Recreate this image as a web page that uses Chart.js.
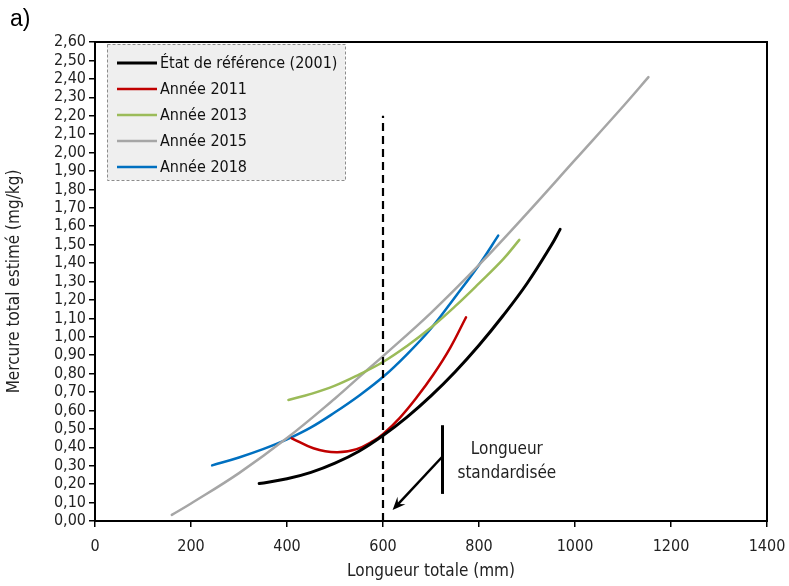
<!DOCTYPE html>
<html><head><meta charset="utf-8">
<script src="https://cdn.jsdelivr.net/npm/chart.js@4/dist/chart.umd.min.js"></script>
<style>html,body{margin:0;padding:0;background:#fff}#wrap{width:789px;height:586px;position:relative}</style>
</head><body><div id="wrap"><canvas id="c" width="789" height="586"></canvas></div>
<script>
const seriesLabels = ['État de référence (2001)','Année 2011','Année 2013','Année 2015','Année 2018'];
const refX = [342,400,450,500,550,600,650,700,750,800,850,900,950,969];
const refY = [0.203,0.229,0.264,0.314,0.379,0.464,0.564,0.679,0.809,0.954,1.114,1.289,1.494,1.583];
const y2011X = [410,455,503,545,580,601,635,670,705,740,773];
const y2011Y = [0.449,0.395,0.373,0.39,0.435,0.474,0.56,0.67,0.795,0.94,1.106];
const y2013X = [403,450,500,550,600,650,700,750,800,850,884];
const y2013Y = [0.657,0.69,0.735,0.795,0.863,0.95,1.05,1.165,1.29,1.42,1.526];
const y2015X = [160,200,300,400,500,552,600,700,800,900,1000,1100,1153];
const y2015Y = [0.033,0.095,0.26,0.45,0.665,0.785,0.895,1.13,1.39,1.67,1.96,2.25,2.409];
const y2018X = [244,300,350,400,450,500,550,601,650,700,750,800,840];
const y2018Y = [0.302,0.345,0.39,0.443,0.508,0.59,0.68,0.784,0.905,1.045,1.215,1.39,1.549];
const xTickLabels = ['0','200','400','600','800','1000','1200','1400'];
const standardLength = 600;
const standardLineTop = 2.2;
const bracketX = 724, bracketY = [0.147, 0.52];
const arrowFrom = [724, 0.35], arrowTo = [620, 0.06];
const noteLines = ['Longueur','standardisée'];
const notePos = [[858, 0.39],[858, 0.255]];
const panelLabel = 'a)';
const xTitle = 'Longueur totale (mm)';
const yTitle = 'Mercure total estimé (mg/kg)';

const FONT = '"Liberation Sans Narrow","DejaVu Sans Condensed","Liberation Sans",Arial,sans-serif';
const colors = ['#000000','#c00000','#9bbb59','#a6a6a6','#0070c0'];
const widths = [3,2.5,2.5,2.5,2.5];
const xs = [refX,y2011X,y2013X,y2015X,y2018X];
const ys = [refY,y2011Y,y2013Y,y2015Y,y2018Y];

const datasets = seriesLabels.map((l,i)=>({
  label:l,
  data: xs[i].map((x,j)=>({x:x,y:ys[i][j]})),
  borderColor: colors[i], backgroundColor: colors[i],
  borderWidth: widths[i], pointRadius:0, showLine:true,
  tension:0.4, fill:false, borderCapStyle:'round'
}));

const extras = {
  id:'extras',
  afterDatasetsDraw(chart){
    const ctx = chart.ctx, xS = chart.scales.x, yS = chart.scales.y, a = chart.chartArea;
    ctx.save();
    ctx.strokeStyle='#000'; ctx.lineWidth=2;
    ctx.strokeRect(a.left, a.top, a.right-a.left, a.bottom-a.top);
    ctx.setLineDash([8,5]); ctx.lineWidth=2.2;
    ctx.beginPath();
    ctx.moveTo(xS.getPixelForValue(standardLength), yS.getPixelForValue(0));
    ctx.lineTo(xS.getPixelForValue(standardLength), yS.getPixelForValue(standardLineTop));
    ctx.stroke();
    ctx.setLineDash([]);
    ctx.lineWidth=3;
    ctx.beginPath();
    ctx.moveTo(xS.getPixelForValue(bracketX), yS.getPixelForValue(bracketY[0]));
    ctx.lineTo(xS.getPixelForValue(bracketX), yS.getPixelForValue(bracketY[1]));
    ctx.stroke();
    const x1=xS.getPixelForValue(arrowFrom[0]), y1=yS.getPixelForValue(arrowFrom[1]);
    const x2=xS.getPixelForValue(arrowTo[0]), y2=yS.getPixelForValue(arrowTo[1]);
    const ang=Math.atan2(y2-y1,x2-x1);
    ctx.lineWidth=2.5;
    ctx.beginPath(); ctx.moveTo(x1,y1);
    ctx.lineTo(x2-7*Math.cos(ang), y2-7*Math.sin(ang)); ctx.stroke();
    ctx.fillStyle='#000';
    ctx.beginPath();
    ctx.moveTo(x2,y2);
    ctx.lineTo(x2-13*Math.cos(ang)+5.5*Math.sin(ang), y2-13*Math.sin(ang)-5.5*Math.cos(ang));
    ctx.lineTo(x2-8*Math.cos(ang), y2-8*Math.sin(ang));
    ctx.lineTo(x2-13*Math.cos(ang)-5.5*Math.sin(ang), y2-13*Math.sin(ang)+5.5*Math.cos(ang));
    ctx.closePath(); ctx.fill();
    ctx.fillStyle='#222'; ctx.font='17px '+FONT; ctx.textAlign='center'; ctx.textBaseline='middle';
    noteLines.forEach((t,i)=>ctx.fillText(t, xS.getPixelForValue(notePos[i][0]), yS.getPixelForValue(notePos[i][1])));
    ctx.textAlign='left'; ctx.font='23px "Liberation Sans",Arial,sans-serif'; ctx.fillStyle='#000';
    ctx.fillText(panelLabel, 10, 20);
    const lx=a.left+12, ly=a.top+2, lw=238, lh=136;
    ctx.fillStyle='#efefef'; ctx.fillRect(lx,ly,lw,lh);
    ctx.strokeStyle='#8c8c8c'; ctx.lineWidth=1; ctx.setLineDash([3,2]);
    ctx.strokeRect(lx+0.5,ly+0.5,lw,lh); ctx.setLineDash([]);
    ctx.font='16px '+FONT; ctx.textAlign='left'; ctx.textBaseline='middle';
    chart.data.datasets.forEach((d,i)=>{
      const yy=ly+19+i*26;
      ctx.strokeStyle=d.borderColor; ctx.lineWidth=d.borderWidth;
      ctx.beginPath(); ctx.moveTo(lx+10,yy); ctx.lineTo(lx+50,yy); ctx.stroke();
      ctx.fillStyle='#111'; ctx.fillText(d.label, lx+53, yy+1);
    });
    ctx.restore();
  }
};

new Chart(document.getElementById('c'),{
  type:'scatter',
  data:{datasets},
  plugins:[extras],
  options:{
    responsive:false, animation:false,
    layout:{padding:{left:0,top:42,right:22,bottom:0}},
    plugins:{legend:{display:false},tooltip:{enabled:false}},
    scales:{
      x:{type:'linear',min:0,max:1400,
        ticks:{stepSize:200,color:'#222',font:{family:FONT,size:16},padding:10,
          callback:(v,i)=>xTickLabels[i]!==undefined?xTickLabels[i]:String(v)},
        grid:{drawOnChartArea:false,color:'#000',tickLength:6,lineWidth:1.5},
        border:{color:'#000',width:2},
        title:{display:true,text:xTitle,color:'#222',font:{family:FONT,size:17},padding:{top:0}},
        afterFit(s){s.height=65; s.paddingRight=0; s.paddingLeft=0;}
      },
      y:{type:'linear',min:0,max:2.6,
        ticks:{stepSize:0.1,autoSkip:false,color:'#222',font:{family:FONT,size:16},padding:3,
          callback:v=>(Math.round(v*100)/100).toFixed(2).replace('.',',')},
        grid:{drawOnChartArea:false,color:'#000',tickLength:6,lineWidth:1.5},
        border:{color:'#000',width:2},
        title:{display:true,text:yTitle,color:'#222',font:{family:FONT,size:17},padding:{bottom:2}},
        afterFit(s){s.width=95; s.paddingTop=0; s.paddingBottom=0;}
      }
    }
  }
});
</script></body></html>
